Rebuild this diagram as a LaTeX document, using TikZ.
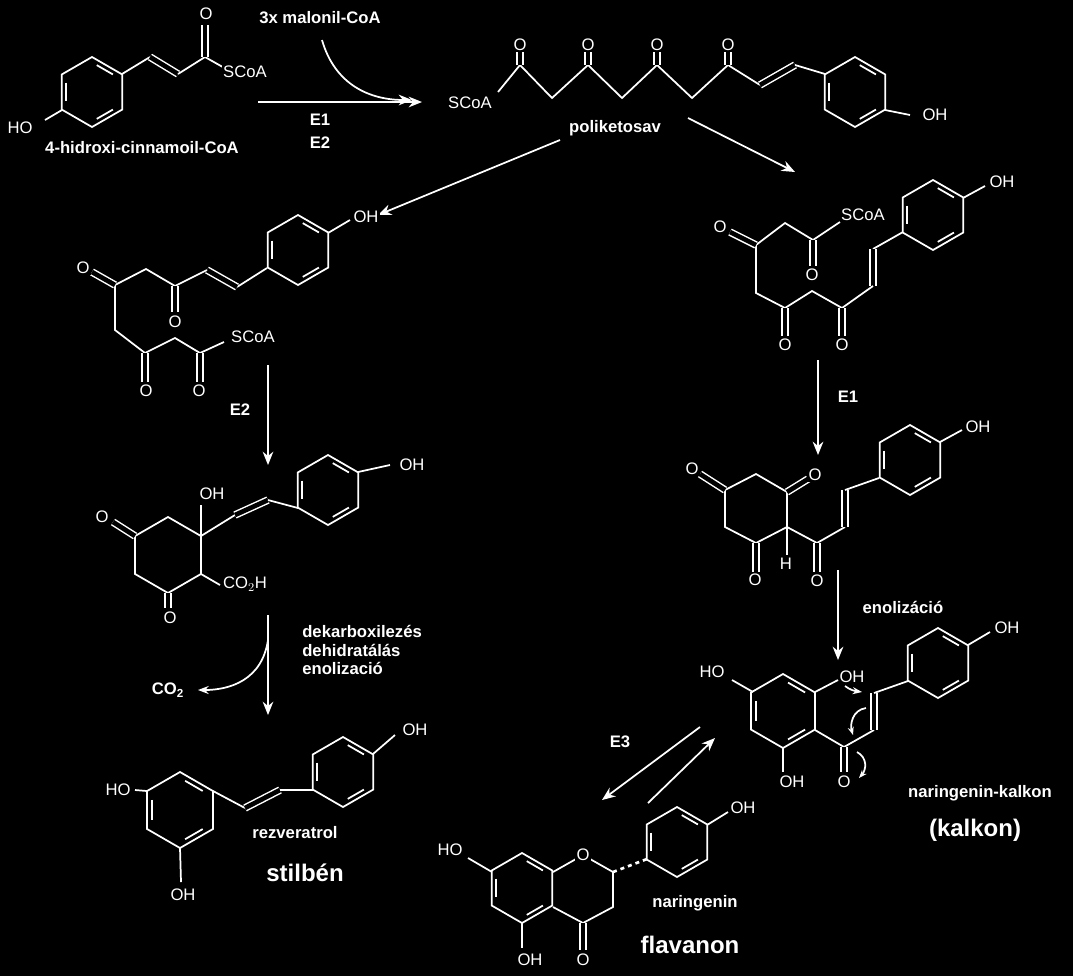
\documentclass[tikz,border=0pt]{standalone}
\usepackage{fontspec}
\setmainfont{Liberation Sans}
\usetikzlibrary{arrows.meta}
\newcommand\benz[3]{\begin{scope}[shift={(#1,#2)}]
\draw (90:#3)--(30:#3)--(-30:#3)--(-90:#3)--(-150:#3)--(150:#3)--cycle;
\foreach \a in {90,-30,-150}{\draw ({\a-10}:0.78*#3)--({\a-50}:0.78*#3);}
\end{scope}}
\newcommand\hexa[3]{\begin{scope}[shift={(#1,#2)}]
\draw (90:#3)--(30:#3)--(-30:#3)--(-90:#3)--(-150:#3)--(150:#3)--cycle;
\end{scope}}
\newcommand\dbl[2]{\draw[double=black,double distance=3.5pt,line width=1.1pt] #1 -- #2;}
\begin{document}
\begin{tikzpicture}[x=0.75pt,y=-0.75pt,white,line width=1.3pt,
 lab/.style={font=\fontsize{12.5}{14}\selectfont\bfseries},
 atom/.style={font=\fontsize{12.5}{14}\selectfont,fill=black,inner sep=1pt},
 big/.style={font=\fontsize{18}{20}\selectfont\bfseries},
 arr/.style={-{Stealth[length=10pt,width=8pt]},line width=1.3pt}]
\fill[black] (0,0) rectangle (1073,976);
\useasboundingbox (0,0) rectangle (1073,976);
% ===== structure 1
\benz{92}{92}{35}
\draw (122,74)--(150,57);
\dbl{(150,57)}{(178,74)}
\draw (178,74)--(205,57)--(228,70);
\dbl{(205,57)}{(205,25)}
\node[atom] (o1) at (206,14) {O};
\node[atom] (s1) at (245,72) {SCoA};
\draw (62,110)--(45,120);
\node[atom] (ho1) at (20,128) {HO};
\node[lab] (t1) at (142,148) {4-hidroxi-cinnamoil-CoA};
\node[lab] (mal) at (320,18) {3x malonil-CoA};
\node[lab] (e1a) at (320,120) {E1};
\node[lab] (e2a) at (320,143) {E2};
\coordinate (a1s) at (258,102); \coordinate (a1e) at (422,102);
\draw[arr] (a1s)--(a1e);
\draw[arr] (322,40) .. controls (335,85) and (370,100) .. (412,100);
% ===== polyketide
\node[atom] (s2) at (470,103) {SCoA};
\draw (498,92)--(520,65)--(552,98)--(588,65)--(622,98)--(657,65)--(692,98)--(728,65)--(760,85);
\dbl{(760,85)}{(795,65)}
\draw (795,65)--(825,74);
\foreach \x in {520,588,657,728}{\dbl{(\x,65)}{(\x,52)}\node[atom] at (\x,45) {O};}
\benz{855}{92}{35}
\draw (885,110)--(910,115);
\node[atom] (oh2) at (935,115) {OH};
\node[lab] (pk) at (615,128) {poliketosav};
\draw[arr] (560,140)--(378,215);
\draw[arr] (688,118)--(795,172);
% ===== left intermediate
\benz{298}{250}{35}
\node[atom] (oh3) at (366,217) {OH};
\draw (328,233)--(350,220);
\draw (267,268)--(237,287);
\dbl{(237,287)}{(207,270)}
\draw (207,270)--(175,286)--(146,269)--(115,285)--(115,330)--(145,353)--(175,338)--(200,353)--(224,342);
\dbl{(175,286)}{(175,312)} \node[atom] at (175,322) {O};
\dbl{(115,285)}{(92,272)}\node[atom] at (83,268) {O};
\dbl{(145,353)}{(145,382)}\node[atom] at (146,391) {O};
\dbl{(200,353)}{(200,382)}\node[atom] at (199,391) {O};
\node[atom] (s3) at (253,337) {SCoA};
\node[lab] (e2b) at (240,410) {E2};
\draw[arr] (268,365)--(268,465);
% ===== cyclohexanetrione with CO2H
\hexa{168}{555}{38}
\dbl{(135,536)}{(113,522)}\node[atom] at (102,517) {O};
\dbl{(168,593)}{(168,608)}\node[atom] at (170,618) {O};
\node[atom] (oh4) at (212,494) {OH};
\draw (201,536)--(201,505);
\draw (201,536)--(235,515);
\dbl{(235,515)}{(268,500)}
\draw (268,500)--(298,508);
\benz{328}{490}{35}
\draw (358,472)--(390,465);
\node[atom] (oh5) at (412,465) {OH};
\draw (201,574)--(220,585);
\node[atom] (co2h) at (245,584) {CO$_2$H};
\draw[arr] (268,615)--(268,715);
\draw[-{Stealth[length=8pt]}] (268,640) .. controls (262,680) and (230,690) .. (198,690);
\node[lab] (co2) at (168,690) {CO$_\mathbf{2}$};
\node[lab,align=left,anchor=north west] (dk) at (297,620) {dekarboxilezés\\dehidratálás\\enolizació};
% ===== resveratrol
\benz{180}{810}{38}
\node[atom] (ho6) at (118,790) {HO};
\node[atom] (oh6) at (183,895) {OH};
\draw (147,791)--(135,790); \draw (180,848)--(181,882);
\draw (213,791)--(245,808);
\dbl{(245,808)}{(280,790)}
\draw (280,790)--(313,790);
\benz{343}{772}{35}
\draw (373,754)--(395,735);
\node[atom] (oh7) at (415,730) {OH};
\node[lab] (rez) at (295,833) {rezveratrol};
\node[big] (stil) at (305,873) {stilbén};
% ===== right intermediate
\benz{933}{215}{35}
\node[atom] (oh8) at (1002,182) {OH};
\draw (963,198)--(985,186);
\draw (903,232)--(873,249);
\dbl{(873,249)}{(873,286)}
\draw (873,286)--(842,308)--(812,291)--(785,308)--(756,293)--(756,245)--(785,223)--(813,240)--(840,222);
\dbl{(842,308)}{(842,336)}\node[atom] at (842,345) {O};
\dbl{(785,308)}{(785,336)}\node[atom] at (785,345) {O};
\dbl{(756,245)}{(730,232)}\node[atom] at (720,227) {O};
\dbl{(813,240)}{(813,266)}\node[atom] at (812,275) {O};
\node[atom] (s4) at (863,215) {SCoA};
\node[lab] (e1b) at (848,397) {E1};
\draw[arr] (818,360)--(818,455);
% ===== cyclohexanetrione right
\draw (725,490)--(756,474)--(787,492)--(787,527)--(756,543)--(725,527)--cycle;
\dbl{(725,490)}{(700,474)}\node[atom] at (692,469) {O};
\dbl{(787,492)}{(808,479)}\node[atom] at (815,475) {O};
\dbl{(756,543)}{(756,572)}\node[atom] at (755,580) {O};
\draw (787,527)--(787,555); \node[atom] at (786,564) {H};
\draw (787,527)--(817,543)--(845,527);
\dbl{(817,543)}{(817,572)}\node[atom] at (817,581) {O};
\dbl{(845,527)}{(845,490)}
\draw (845,490)--(879,478);
\benz{910}{460}{35}
\draw (940,442)--(962,430);
\node[atom] (oh9) at (978,427) {OH};
\node[lab] (enol) at (903,607) {enolizáció};
\draw[arr] (838,570)--(838,660);
% ===== chalcone
\benz{783}{711}{37}
\node[atom] (ho10) at (712,672) {HO};
\node[atom] (oh10) at (792,782) {OH};
\node[atom] (oh11) at (852,677) {OH};
\draw (753,692)--(732,680); \draw (783,748)--(783,772); \draw (815,692)--(838,680);
\draw (815,730)--(844,747)--(874,730);
\dbl{(844,747)}{(844,772)}
\node[atom] at (844,782) {O};
\dbl{(874,730)}{(874,693)}
\draw (874,693)--(908,681);
\benz{938}{663}{35}
\draw (968,645)--(990,632);
\node[atom] (oh12) at (1007,628) {OH};
\draw[-{Stealth[length=7pt]}] (845,686) .. controls (850,690) and (855,691) .. (862,692);
\draw[-{Stealth[length=6pt]}] (866,708) .. controls (852,710) and (850,725) .. (853,735);
\draw[-{Stealth[length=6pt]}] (857,752) .. controls (868,758) and (866,770) .. (859,778);
\node[lab] (nk) at (980,793) {naringenin-kalkon};
\node[big] (kal) at (975,830) {(kalkon)};
% ===== equilibrium
\node[lab] (e3) at (620,742) {E3};
\draw[arr] (700,727)--(602,800);
\draw[arr] (648,803)--(715,738);
% ===== flavanone
\benz{522}{888}{35}
\draw (553,872)--(583,855)--(613,872)--(613,907)--(583,923)--(553,907);
\node[atom] (ho13) at (450,850) {HO};
\node[atom] (oh13) at (530,960) {OH};
\draw (492,872)--(468,858); \draw (522,923)--(522,948);
\node[atom] (o13) at (583,855) {O};
\dbl{(583,923)}{(583,950)}\node[atom] at (583,960) {O};
\draw[dashed,dash pattern=on 3pt off 3pt,line width=2pt] (613,872)--(647,859);
\benz{677}{842}{35}
\draw (707,825)--(728,812);
\node[atom] (oh14) at (743,808) {OH};
\node[lab] (nar) at (695,903) {naringenin};
\node[big] (flav) at (690,945) {flavanon};
\end{tikzpicture}
\end{document}
